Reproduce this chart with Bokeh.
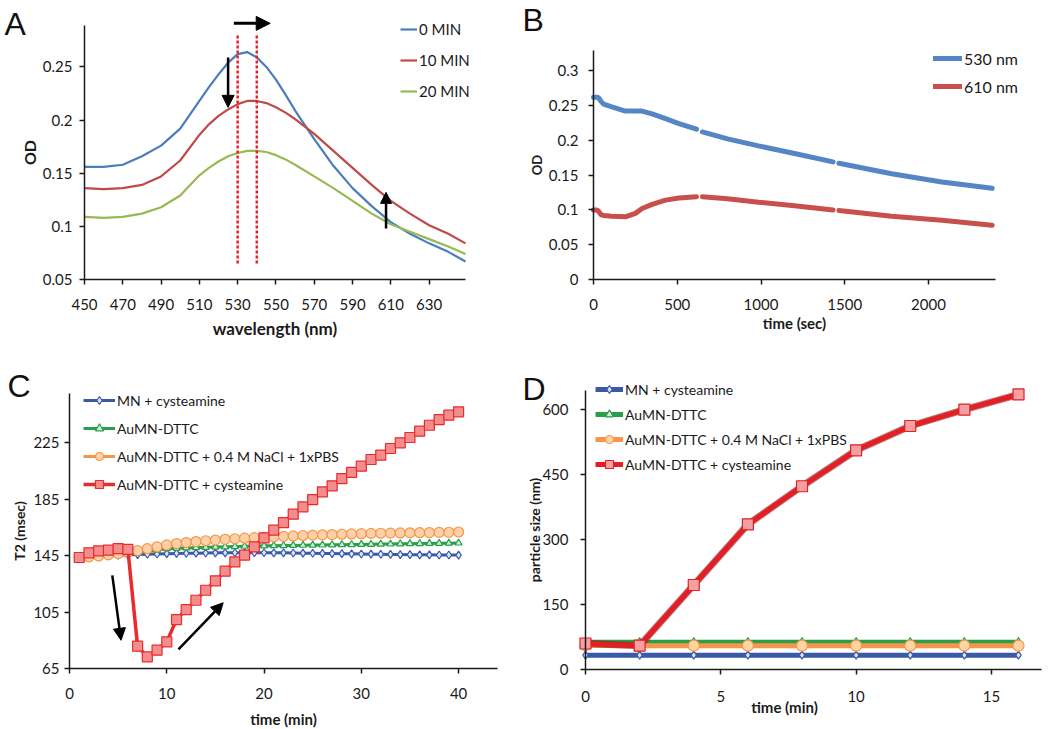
from bokeh.plotting import figure
from bokeh.layouts import column, row
from bokeh.models import (Legend, LegendItem, Label, Arrow, NormalHead, Range1d,
                          FixedTicker, LinearAxis)
from bokeh.embed import file_html
from bokeh.resources import INLINE

nan = float("nan")

# ---------------- Panel A data ----------------
wavelength = [450, 460, 470, 480, 490, 500, 510, 515, 520, 525, 530, 535, 540,
              545, 550, 555, 560, 570, 580, 590, 600, 610, 620, 630, 640, 649]
od_0min = [0.156, 0.156, 0.158, 0.166, 0.176, 0.192, 0.218, 0.231, 0.243, 0.254,
           0.262, 0.264, 0.259, 0.250, 0.238, 0.224, 0.209, 0.182, 0.157, 0.136,
           0.119, 0.104, 0.093, 0.084, 0.076, 0.067]
od_10min = [0.136, 0.135, 0.136, 0.139, 0.147, 0.162, 0.186, 0.196, 0.204, 0.210,
            0.215, 0.218, 0.218, 0.216, 0.212, 0.207, 0.201, 0.187, 0.171, 0.155,
            0.139, 0.124, 0.112, 0.101, 0.093, 0.084]
od_20min = [0.109, 0.108, 0.109, 0.112, 0.118, 0.129, 0.148, 0.155, 0.161, 0.166,
            0.169, 0.171, 0.171, 0.170, 0.167, 0.163, 0.158, 0.147, 0.136, 0.124,
            0.112, 0.102, 0.095, 0.088, 0.081, 0.074]
a_series = ["0 MIN", "10 MIN", "20 MIN"]
a_xticks = [450, 470, 490, 510, 530, 550, 570, 590, 610, 630]
a_yticks = [0.05, 0.1, 0.15, 0.2, 0.25]
a_ylabels = ["0.05", "0.1", "0.15", "0.2", "0.25"]
peak_nm = [530, 540]
peak_od_span = [0.065, 0.281]
a_arrows = [  # (x0, y0, x1, y1)
    (525, 0.259, 525, 0.212),
    (528, 0.291, 547, 0.291),
    (607.5, 0.098, 607.5, 0.132),
]

# ---------------- Panel B data ----------------
time_sec = [0, 20, 30, 45, 60, 110, 190, 250, 290, 350, 430, 510, 615, nan,
            650, 800, 985, 1200, 1430, nan, 1465, 1780, 2080, 2380]
od_530 = [0.262, 0.262, 0.261, 0.256, 0.252, 0.248, 0.242, 0.242, 0.242, 0.238,
          0.231, 0.224, 0.216, nan, 0.212, 0.202, 0.192, 0.181, 0.169, nan,
          0.167, 0.152, 0.140, 0.131]
od_610 = [0.100, 0.100, 0.098, 0.093, 0.092, 0.091, 0.090, 0.095, 0.102, 0.108,
          0.114, 0.117, 0.119, nan, 0.119, 0.116, 0.111, 0.106, 0.100, nan,
          0.099, 0.091, 0.085, 0.078]
b_series = ["530 nm", "610 nm"]
b_xticks = [0, 500, 1000, 1500, 2000]
b_yticks = [0, 0.05, 0.1, 0.15, 0.2, 0.25, 0.3]
b_ylabels = ["0", "0.05", "0.1", "0.15", "0.2", "0.25", "0.3"]

# ---------------- Panel C data ----------------
time_c = list(range(1, 41))
t2_mn = [143.7, 144.3, 144.7, 145.0, 145.3, 145.6, 145.8, 146.0, 146.2, 146.4,
         146.6, 146.7, 146.8, 146.9, 147.0, 147.0, 147.1, 147.1, 147.1, 147.1,
         147.0, 147.0, 146.9, 146.8, 146.7, 146.6, 146.5, 146.4, 146.3, 146.2,
         146.1, 146.0, 145.9, 145.8, 145.7, 145.6, 145.6, 145.5, 145.5, 145.4]
t2_au = [143.7, 144.4, 145.0, 145.6, 146.2, 146.8, 147.4, 148.2, 149.0, 150.0,
         150.2, 150.5, 150.7, 150.9, 151.1, 151.3, 151.5, 151.7, 151.8, 152.0,
         152.1, 152.2, 152.3, 152.4, 152.5, 152.6, 152.7, 152.8, 152.9, 153.0,
         153.1, 153.2, 153.3, 153.4, 153.5, 153.6, 153.7, 153.8, 153.9, 154.0]
t2_nacl = [143.7, 144.2, 144.8, 145.6, 146.5, 147.4, 148.6, 150.0, 151.3, 152.6,
           153.6, 154.3, 155.0, 155.6, 156.1, 156.6, 157.0, 157.4, 157.8, 158.1,
           158.4, 158.7, 159.0, 159.3, 159.6, 159.8, 160.0, 160.2, 160.4, 160.6,
           160.8, 160.9, 161.0, 161.1, 161.2, 161.3, 161.4, 161.5, 161.6, 161.8]
t2_cys = [143.7, 147.0, 148.4, 148.9, 150.0, 149.4, 80.8, 73.3, 78.0, 83.9,
          99.7, 106.8, 113.4, 120.5, 127.2, 134.0, 140.6, 145.4, 151.3, 157.6,
          163.1, 168.5, 174.4, 179.6, 184.8, 190.3, 194.5, 199.7, 204.0, 208.5,
          213.2, 216.3, 221.0, 225.0, 228.8, 233.3, 237.5, 241.5, 244.6, 247.0]
c_xticks = [0, 10, 20, 30, 40]
c_yticks = [65, 105, 145, 185, 225]
c_arrows = [(4.4, 131, 5.3, 85), (11.2, 78.5, 15.8, 111.6)]

# ---------------- Panel D data ----------------
time_d = [0, 2, 4, 6, 8, 10, 12, 14, 16]
size_mn = [33, 33, 33, 33, 33, 33, 33, 33, 33]
size_au = [63, 63, 63, 63, 63, 63, 63, 63, 63]
size_nacl = [56, 55, 55, 55, 55, 55, 55, 55, 55]
size_cys = [60, 55, 195, 335, 423, 506, 562, 600, 635]
d_xticks = [0, 5, 10, 15]
d_yticks = [0, 150, 300, 450, 600]

cd_series = ["MN + cysteamine", "AuMN-DTTC", "AuMN-DTTC + 0.4 M NaCl + 1xPBS",
             "AuMN-DTTC + cysteamine"]

FONT = "Lato"
AXC = "#1a1a1a"


def make_fig(W, H, box, data):
    """box = (left, right, top, bottom) pixel edges of the axes area in the canvas,
    data = (x0, x1, y0, y1) data values at those edges. The whole canvas is the
    frame; axes are pinned with fixed_location so nothing is clipped."""
    l, r, t, b = box
    x0, x1, y0, y1 = data
    sx = (x1 - x0) / (r - l)
    sy = (y1 - y0) / (b - t)
    p = figure(x_range=Range1d(x0 - l * sx, x1 + (W - r) * sx),
               y_range=Range1d(y0 - (H - b) * sy, y1 + t * sy),
               frame_width=W, frame_height=H, min_border=0,
               output_backend="svg", toolbar_location=None,
               background_fill_color="white", border_fill_color="white")
    p.xgrid.visible = False
    p.ygrid.visible = False
    p.outline_line_color = None
    p.xaxis.fixed_location = y0
    p.xaxis.bounds = (x0, x1)
    p.yaxis.fixed_location = x0
    p.yaxis.bounds = (y0, y1)
    for ax in p.axis:
        ax.axis_line_color = AXC
        ax.axis_line_width = 1.5
        ax.major_tick_line_color = AXC
        ax.major_tick_line_width = 1.5
        ax.major_tick_out = 5
        ax.major_tick_in = 0
        ax.minor_tick_out = 0
        ax.minor_tick_in = 0
        ax.major_label_text_font = FONT
        ax.major_label_text_font_size = "15px"
        ax.major_label_text_color = AXC
        ax.axis_label_text_font = FONT
        ax.axis_label_text_font_style = "bold"
        ax.axis_label_text_color = AXC
    return p


def letter(p, txt, x, y):
    p.add_layout(Label(x=x, y=y, x_units="screen", y_units="screen", text=txt,
                       text_font="Liberation Sans", text_font_size="32px",
                       text_color="#111111", text_baseline="alphabetic"))


def add_legend(p, items, loc, glyph_w, spacing, font_size="15px"):
    lg = Legend(items=items, location=loc, glyph_width=glyph_w, glyph_height=20,
                label_height=20, spacing=spacing, padding=0, margin=0,
                label_standoff=2, background_fill_alpha=0, border_line_alpha=0,
                label_text_font=FONT, label_text_font_size=font_size,
                label_text_color=AXC)
    p.add_layout(lg)


def arrow(p, a, size=12, width=2.5):
    p.add_layout(Arrow(x_start=a[0], y_start=a[1], x_end=a[2], y_end=a[3],
                       line_width=width, line_color="black",
                       end=NormalHead(size=size, fill_color="black",
                                      line_color="black", line_width=1)))


# ================= A =================
pA = make_fig(518, 363, (84, 465, 25, 279), (450, 649, 0.05, 0.289))
pA.xaxis.ticker = FixedTicker(ticks=a_xticks)
pA.yaxis.ticker = FixedTicker(ticks=a_yticks)
pA.yaxis.major_label_overrides = dict(zip(a_yticks, a_ylabels))
pA.xaxis.axis_label = "wavelength (nm)"
pA.xaxis.axis_label_text_font_size = "17px"
pA.xaxis.major_label_standoff = 14
pA.xaxis.axis_label_standoff = 5
pA.yaxis.axis_label = "OD"
pA.yaxis.axis_label_text_font_size = "16px"
pA.yaxis.major_label_standoff = 7
pA.yaxis.axis_label_standoff = 1
a_cols = ["#4a7ebb", "#be4b48", "#98b954"]
itemsA = []
for name, ys, c in zip(a_series, [od_0min, od_10min, od_20min], a_cols):
    r = pA.line(wavelength, ys, line_color=c, line_width=2.2)
    itemsA.append(LegendItem(label=name, renderers=[r]))
pA.segment(x0=peak_nm, y0=[peak_od_span[0]] * 2, x1=peak_nm,
           y1=[peak_od_span[1]] * 2, line_color="#e8202a", line_width=2.5,
           line_dash="3 2")
arrow(pA, a_arrows[0], size=12, width=2.5)
arrow(pA, a_arrows[1], size=14, width=3)
arrow(pA, a_arrows[2], size=11, width=2.5)
add_legend(pA, itemsA, (400, 262), 17, 11, "15px")
letter(pA, "A", 4, 340)

# ================= B =================
pB = make_fig(524, 363, (75, 477, 50, 279), (0, 2400, 0, 0.329))
pB.xaxis.ticker = FixedTicker(ticks=b_xticks)
pB.yaxis.ticker = FixedTicker(ticks=b_yticks)
pB.yaxis.major_label_overrides = dict(zip(b_yticks, b_ylabels))
pB.xaxis.axis_label = "time (sec)"
pB.xaxis.axis_label_text_font_size = "15px"
pB.xaxis.major_label_standoff = 14
pB.xaxis.axis_label_standoff = 1
pB.yaxis.axis_label = "OD"
pB.yaxis.axis_label_text_font_size = "13px"
pB.yaxis.major_label_standoff = 10
pB.yaxis.axis_label_standoff = 1
itemsB = []
for name, ys, c in zip(b_series, [od_530, od_610], ["#5585c5", "#c8504c"]):
    r = pB.line(time_sec, ys, line_color=c, line_width=5, line_cap="round")
    itemsB.append(LegendItem(label=name, renderers=[r]))
add_legend(pB, itemsB, (415, 267), 29, 8, "16px")
letter(pB, "B", 4, 344)

# ================= C =================
pC = make_fig(518, 365, (69, 497, 30, 305), (0, 44, 65, 260))
pC.xaxis.ticker = FixedTicker(ticks=c_xticks)
pC.yaxis.ticker = FixedTicker(ticks=c_yticks)
pC.xaxis.axis_label = "time (min)"
pC.xaxis.axis_label_text_font_size = "15px"
pC.xaxis.major_label_standoff = 14
pC.xaxis.axis_label_standoff = 8
pC.yaxis.axis_label = "T2 (msec)"
pC.yaxis.axis_label_text_font_size = "14px"
pC.yaxis.major_label_standoff = 5
pC.yaxis.axis_label_standoff = 2

styles = [
    dict(color="#3a5aa8", marker="diamond", size=8, fill="#dfe6f5", lw=3),
    dict(color="#2a9e4a", marker="triangle", size=7, fill="#d5eed9", lw=3),
    dict(color="#f7964a", marker="circle", size=10, fill="#fcd0a8", lw=3),
    dict(color="#e82c2c", marker="square", size=10, fill="#f38c8c", lw=3.5),
]
itemsC = []
for name, ys, s in zip(cd_series, [t2_mn, t2_au, t2_nacl, t2_cys], styles):
    rl = pC.line(time_c, ys, line_color=s["color"], line_width=s["lw"])
    rs = pC.scatter(time_c, ys, marker=s["marker"], size=s["size"],
                    fill_color=s["fill"], line_color=s["color"], line_width=1.2)
    itemsC.append(LegendItem(label=name, renderers=[rl, rs]))
for a in c_arrows:
    arrow(pC, a, size=12, width=2.5)
add_legend(pC, itemsC, (83, 234), 32, 8, "14px")
letter(pC, "C", 7, 343)

# ================= D =================
pD = make_fig(524, 365, (67, 523, 27, 306), (0, 16.85, 0, 644))
pD.xaxis.ticker = FixedTicker(ticks=d_xticks)
pD.yaxis.ticker = FixedTicker(ticks=d_yticks)
pD.xaxis.major_label_standoff = 16
pD.yaxis.axis_label = "particle size (nm)"
pD.yaxis.axis_label_text_font_size = "14px"
pD.yaxis.major_label_standoff = 12
pD.yaxis.axis_label_standoff = -4
# separate title-only axis so the title sits between the "5" and "10" labels
d_title_axis = LinearAxis(fixed_location=0, bounds=(0, 14.7),
                          ticker=FixedTicker(ticks=[]), axis_line_alpha=0,
                          major_tick_out=0, major_tick_in=0, minor_tick_out=0,
                          minor_tick_in=0, axis_label="time (min)",
                          axis_label_standoff=28, axis_label_text_font=FONT,
                          axis_label_text_font_style="bold",
                          axis_label_text_font_size="15px",
                          axis_label_text_color=AXC)
pD.add_layout(d_title_axis, "below")
stylesD = [
    dict(color="#3a5aa8", marker="diamond", size=8, fill="#dfe6f5", lw=5),
    dict(color="#2a9e4a", marker="triangle", size=8, fill="#d5eed9", lw=5),
    dict(color="#f7964a", marker="circle", size=11, fill="#fcd5a5", lw=5),
    dict(color="#e31e24", marker="square", size=11, fill="#f3a0a0", lw=5),
]
itemsD = []
for name, ys, s in zip(cd_series, [size_mn, size_au, size_nacl, size_cys], stylesD):
    if s["marker"] == "square":
        pD.line(time_d, ys, line_color="#8a1515", line_width=7, line_alpha=0.6)
    rl = pD.line(time_d, ys, line_color=s["color"], line_width=s["lw"])
    rs = pD.scatter(time_d, ys, marker=s["marker"], size=s["size"],
                    fill_color=s["fill"], line_color=s["color"], line_width=1.2)
    itemsD.append(LegendItem(label=name, renderers=[rl, rs]))
add_legend(pD, itemsD, (77, 254), 28, 5, "14px")
letter(pD, "D", 4, 340)

layout = column(row(pA, pB), row(pC, pD))
open("out.html", "w").write(file_html(layout, INLINE))
